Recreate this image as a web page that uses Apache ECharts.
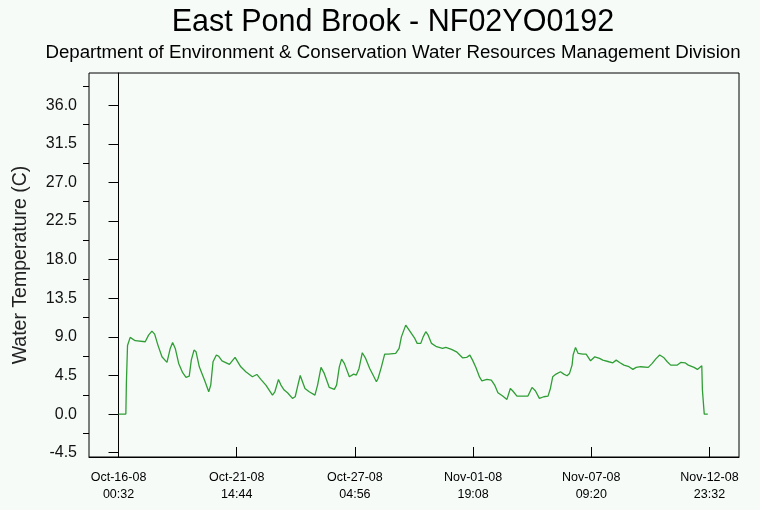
<!DOCTYPE html>
<html>
<head>
<meta charset="utf-8">
<script src="https://cdn.jsdelivr.net/npm/echarts@6/dist/echarts.min.js"></script>
<style>
html,body{margin:0;padding:0;background:#f6fbf8;}
#chart{width:760px;height:510px;}
</style>
</head>
<body>
<div id="chart"></div>
<script>
const titleText = 'East Pond Brook - NF02YO0192';
const subtitleText = 'Department of Environment & Conservation Water Resources Management Division';
const yAxisName = 'Water Temperature (C)';
const startTimeUTC = Date.UTC(2008, 9, 16, 0, 32);
// hours elapsed since start time
const hours = [0, 8.3, 8.9, 9.8, 10.2, 13.2, 18.9, 30.3, 34.1, 37.9,
  41.0, 44.7, 49.3, 55.0, 58.7, 61.4, 64.4, 68.3, 72.8, 76.6,
  80.3, 82.6, 85.7, 88.0, 91.7, 97.9, 102.4, 104.7, 107.3, 111.1,
  113.8, 117.5, 125.9, 132.3, 138.8, 144.5, 152.0, 157.0, 161.6, 167.3,
  174.8, 177.5, 181.6, 184.4, 188.1, 191.9, 197.5, 200.6, 203.2, 206.3,
  211.7, 216.5, 223.0, 226.0, 229.9, 233.6, 239.3, 245.0, 247.6, 250.7,
  253.3, 256.4, 262.1, 267.0, 270.0, 273.1, 276.8, 280.6, 285.2, 289.0,
  292.8, 294.7, 298.5, 302.2, 306.1, 314.7, 318.6, 321.2, 326.1, 330.0,
  336.4, 339.1, 343.2, 345.9, 348.9, 351.6, 355.4, 361.1, 367.9, 371.6,
  378.1, 383.8, 390.6, 395.2, 398.9, 402.0, 405.8, 410.0, 412.6, 418.3,
  423.3, 427.1, 430.8, 436.2, 441.0, 444.9, 447.5, 452.4, 464.9, 469.5,
  473.3, 477.9, 482.8, 487.7, 490.4, 493.0, 496.8, 501.8, 505.6, 509.3,
  512.1, 515.0, 516.2, 518.9, 521.9, 527.2, 531.0, 536.0, 540.8, 546.2,
  549.9, 556.8, 561.3, 565.1, 569.0, 573.9, 579.6, 584.1, 587.8, 592.8,
  601.5, 606.0, 610.6, 614.5, 619.4, 623.1, 627.0, 634.5, 638.4, 643.3,
  647.0, 653.5, 657.3, 659.2, 662.3, 663.0, 664.9, 665.1, 669.1];
const temps = [0, 0, 3.6, 3.8, 8.0, 8.94, 8.55, 8.43, 9.2, 9.67,
  9.32, 8.04, 6.68, 6.02, 7.65, 8.35, 7.65, 5.91, 4.82, 4.27,
  4.43, 6.29, 7.46, 7.26, 5.51, 3.88, 2.6, 3.38, 6.1, 6.88,
  6.74, 6.21, 5.79, 6.6, 5.51, 4.93, 4.35, 4.62, 4.04, 3.38,
  2.21, 2.6, 4.04, 3.38, 2.8, 2.49, 1.83, 2.02, 3.18, 4.5,
  2.99, 2.6, 2.21, 3.38, 5.44, 4.74, 3.11, 2.88, 3.38, 5.51,
  6.41, 5.91, 4.35, 4.66, 4.55, 5.32, 7.15, 6.49, 5.32, 4.55,
  3.77, 4.15, 5.51, 6.99, 6.99, 7.07, 7.65, 9.0, 10.37, 9.79,
  8.82, 8.24, 8.24, 9.0, 9.6, 9.2, 8.24, 7.85, 7.65, 7.77,
  7.54, 7.26, 6.56, 6.6, 6.87, 6.29, 5.44, 4.3, 3.88, 4.04,
  3.96, 3.38, 2.49, 2.1, 1.71, 2.99, 2.72, 2.1, 2.1, 3.11,
  2.72, 1.83, 2.02, 2.1, 2.99, 4.35, 4.66, 4.93, 4.66, 4.47,
  4.74, 5.71, 6.88, 7.77, 7.07, 6.99, 6.99, 6.21, 6.68, 6.49,
  6.29, 6.1, 5.98, 6.29, 6.02, 5.71, 5.52, 5.21, 5.44, 5.52,
  5.44, 5.91, 6.49, 6.88, 6.56, 6.1, 5.71, 5.71, 6.02, 5.98,
  5.71, 5.44, 5.21, 5.44, 5.63, 2.8, 2.8, 0, 0];
const xTickHours = [0, 134.2, 268.4, 402.6, 536.8, 671];
const yTickValues = [-4.5, 0, 4.5, 9, 13.5, 18, 22.5, 27, 31.5, 36];
const yMinorTickValues = [-2.25, 2.25, 6.75, 11.25, 15.75, 20.25, 24.75, 29.25, 33.75, 38.25];

const months = ['Jan','Feb','Mar','Apr','May','Jun','Jul','Aug','Sep','Oct','Nov','Dec'];
const pad2 = n => (n < 10 ? '0' : '') + n;
function fmtHour(h) {
  const d = new Date(startTimeUTC + Math.round(h * 60) * 60000);
  return months[d.getUTCMonth()] + '-' + pad2(d.getUTCDate()) + '-' + pad2(d.getUTCFullYear() % 100) +
    '\n' + pad2(d.getUTCHours()) + ':' + pad2(d.getUTCMinutes());
}

const FONT = '"Liberation Sans", Arial, sans-serif';
const span = xTickHours[xTickHours.length - 1] - xTickHours[0];
const xPad = span * 0.05;

const chart = echarts.init(document.getElementById('chart'), null, {renderer: 'canvas'});
chart.setOption({
  backgroundColor: '#f6fbf8',
  animation: false,
  graphic: [
    {type: 'text', x: 393, y: 7, style: {text: titleText, textAlign: 'center', textVerticalAlign: 'top', fontFamily: FONT, fontSize: 30.5, fill: '#000'}},
    {type: 'text', x: 393, y: 43, style: {text: subtitleText, textAlign: 'center', textVerticalAlign: 'top', fontFamily: FONT, fontSize: 18.7, fill: '#000'}}
  ],
  grid: {left: 89, right: 21, top: 73, bottom: 53, show: true, borderColor: '#000', borderWidth: 1, backgroundColor: 'transparent'},
  xAxis: {
    type: 'value',
    min: xTickHours[0] - xPad,
    max: xTickHours[xTickHours.length - 1] + xPad,
    axisLine: {show: true, onZero: false, lineStyle: {color: '#000', width: 1}},
    axisTick: {show: true, inside: true, length: 10, customValues: xTickHours, lineStyle: {color: '#000'}},
    axisLabel: {show: true, customValues: xTickHours, formatter: fmtHour, margin: 12, fontFamily: FONT, fontSize: 12.5, lineHeight: 17, color: '#000'},
    splitLine: {show: false}
  },
  yAxis: [{
    type: 'value',
    min: -5,
    max: 39.75,
    name: yAxisName,
    nameLocation: 'middle',
    nameGap: 58,
    nameTextStyle: {fontFamily: FONT, fontSize: 19.5, color: '#222'},
    axisLine: {show: true, lineStyle: {color: '#000', width: 1}},
    axisTick: {show: true, length: 10, customValues: yTickValues, lineStyle: {color: '#000'}},
    axisLabel: {show: true, customValues: yTickValues, formatter: v => v.toFixed(1), margin: 12, fontFamily: FONT, fontSize: 16, color: '#111'},
    splitLine: {show: false}
  }, {
    type: 'value',
    position: 'left',
    min: -5,
    max: 39.75,
    axisLine: {show: false},
    axisTick: {show: true, length: 6, customValues: yMinorTickValues, lineStyle: {color: '#000'}},
    axisLabel: {show: false},
    splitLine: {show: false}
  }],
  series: [{
    type: 'line',
    yAxisIndex: 0,
    data: hours.map((h, i) => [h, temps[i]]),
    showSymbol: false,
    lineStyle: {color: '#2f9e34', width: 1.3},
    itemStyle: {color: '#2f9e34'}
  }]
});
</script>
</body>
</html>
